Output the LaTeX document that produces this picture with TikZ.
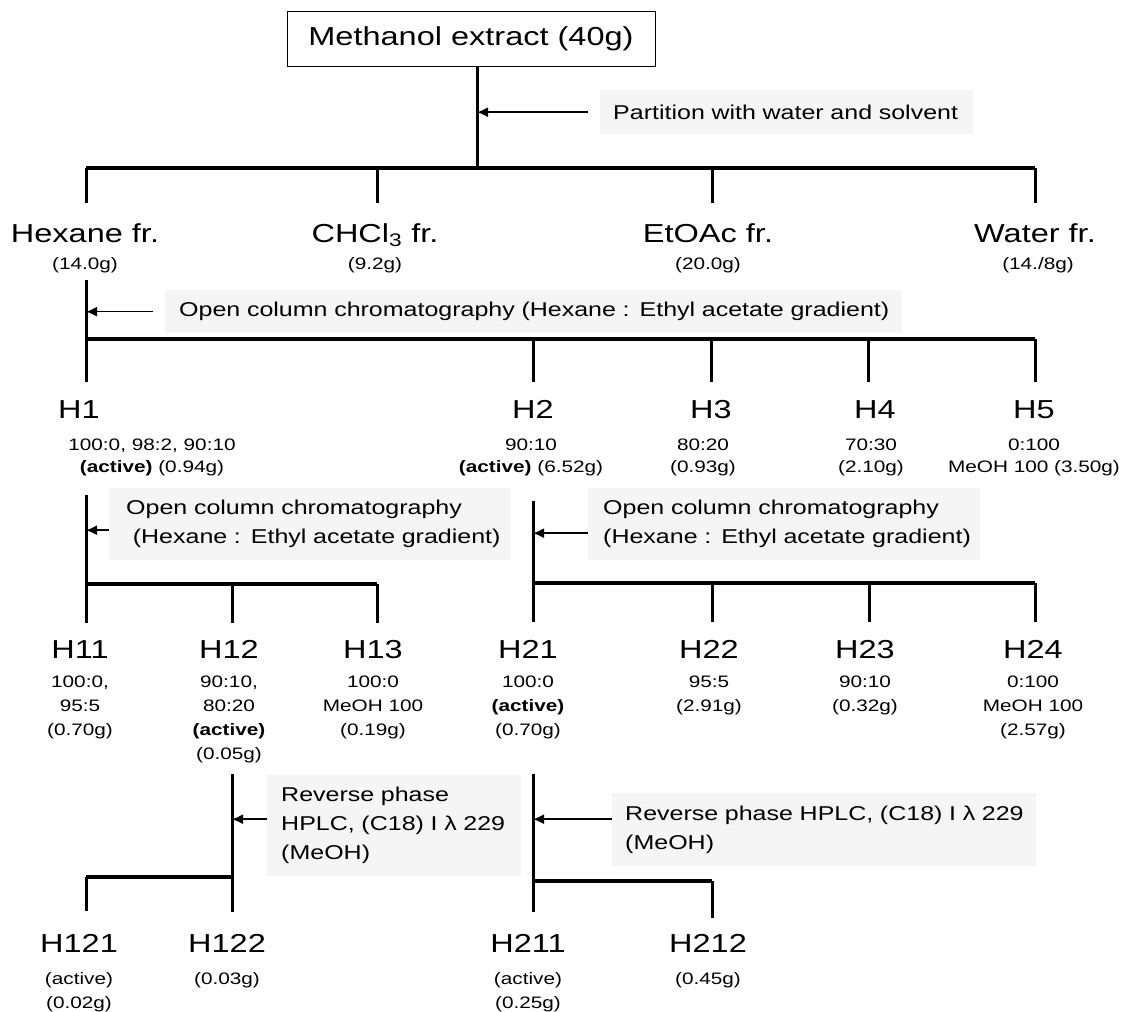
\documentclass[tikz,border=0pt]{standalone}
\usepackage{fontspec}
\newfontfamily\gul[FakeStretch=1.25]{Liberation Sans}
\usetikzlibrary{arrows.meta}
\begin{document}
\begin{tikzpicture}[x=1pt,y=-1pt,
  big/.style={font=\gul\fontsize{26}{30}\selectfont, inner sep=0pt, anchor=base},
  small/.style={font=\gul\fontsize{16.6}{24}\selectfont, inner sep=0pt, align=center, anchor=north},
  smalltight/.style={small, font=\gul\fontsize{16.6}{22}\selectfont},
  note/.style={font=\gul\fontsize{20}{29}\selectfont, fill=black!4, draw=none, anchor=north west, align=left, inner ysep=0pt},
  trunk/.style={line width=3pt},
  bar/.style={line width=3.8pt},
  arr/.style={line width=1.5pt, -{Latex[length=11pt,width=10pt]}}
]
\useasboundingbox (0,0) rectangle (1125,1012);

% ---- top
\node[draw, line width=1pt, minimum width=368pt, minimum height=55pt, inner sep=0pt,
      font=\gul\fontsize{26}{30}\selectfont] (top) at (471,38.5) {Methanol extract (40g)};
\coordinate (t0) at (477,168);
\draw[trunk] (top.south -| t0) -- (t0);
\node[note, text width=347pt, inner xsep=13pt, minimum height=44pt] (p1) at (600,90) {\mbox{Partition with water and solvent}};
\draw[arr] ([xshift=-12pt]p1.west) -- (p1.west -| t0);

\coordinate (b0l) at (86,168);
\coordinate (b0r) at (1035,168);
\draw[bar] (b0l) -- (b0r);
\foreach \xx in {86,377,712,1035} \draw[trunk] (\xx,168) -- (\xx,203);

\node[big] (hex) at (85,242) {Hexane fr.};
\node[big] (chcl) at (375,242) {CHCl\textsubscript{3} fr.};
\node[big] (etoac) at (708,242) {EtOAc fr.};
\node[big] (water) at (1035,242) {Water fr.};
\node[small] (hexw) at (85,257) {(14.0g)};
\node[small] (chclw) at (375,257) {(9.2g)};
\node[small] (etoacw) at (708,257) {(20.0g)};
\node[small] (waterw) at (1038,257) {(14./8g)};

% ---- hexane column
\coordinate (b1l) at (86,339);
\coordinate (b1r) at (1035,339);
\draw[trunk] (86,280) -- (b1l);
\node[note, text width=709pt, inner xsep=14pt, minimum height=43pt] (oc) at (165,290)
  {\mbox{Open column chromatography (Hexane : Ethyl acetate gradient)}};
\draw[arr] ([xshift=-12pt]oc.west) -- (oc.west -| b1l);
\draw[bar] (b1l) -- (b1r);
\foreach \xx in {86,533,711,868,1035} \draw[trunk] (\xx,339) -- (\xx,382);

\node[big] (H1) at (79,418) {H1};
\node[big] (H2) at (533,418) {H2};
\node[big] (H3) at (711,418) {H3};
\node[big] (H4) at (875,418) {H4};
\node[big] (H5) at (1034,418) {H5};
\node[smalltight] (h1s) at (152,439) {100:0, 98:2, 90:10\\\textbf{(active)} (0.94g)};
\node[smalltight] (h2s) at (531,439) {90:10\\\textbf{(active)} (6.52g)};
\node[smalltight] (h3s) at (703,439) {80:20\\(0.93g)};
\node[smalltight] (h4s) at (871,439) {70:30\\(2.10g)};
\node[smalltight] (h5s) at (1034,439) {0:100\\MeOH 100 (3.50g)};

% ---- H1 column
\coordinate (b2l) at (86,584);
\coordinate (b2r) at (377,584);
\draw[trunk] (86,495) -- (b2l);
\node[note, text width=368pt, inner xsep=17pt, minimum height=72pt] (n1) at (109,488)
  {\mbox{Open column chromatography}\\\mbox{ (Hexane : Ethyl acetate gradient)}};
\draw[arr] ([yshift=-6pt]n1.west) -- ([yshift=-6pt]n1.west -| b2l);
\draw[bar] (b2l) -- (b2r);
\foreach \xx in {86,232,377} \draw[trunk] (\xx,584) -- (\xx,623);

% ---- H2 column
\coordinate (b3l) at (533,583);
\coordinate (b3r) at (1035,583);
\draw[trunk] (533,501) -- (b3l);
\node[note, text width=362pt, inner xsep=15pt, minimum height=72pt] (n2) at (588,488)
  {\mbox{Open column chromatography}\\\mbox{(Hexane : Ethyl acetate gradient)}};
\draw[arr] ([yshift=-9pt]n2.west) -- ([yshift=-9pt]n2.west -| b3l);
\draw[bar] (b3l) -- (b3r);
\foreach \xx in {533,712,869,1035} \draw[trunk] (\xx,583) -- (\xx,622);

\node[big] (H11) at (80,658) {H11};
\node[big] (H12) at (229,658) {H12};
\node[big] (H13) at (373,658) {H13};
\node[big] (H21) at (528,658) {H21};
\node[big] (H22) at (709,658) {H22};
\node[big] (H23) at (865,658) {H23};
\node[big] (H24) at (1033,658) {H24};
\node[small] (h11s) at (80,676) {100:0,\\95:5\\(0.70g)};
\node[small] (h12s) at (229,676) {90:10,\\80:20\\\textbf{(active)}\\(0.05g)};
\node[small] (h13s) at (373,676) {100:0\\MeOH 100\\(0.19g)};
\node[small] (h21s) at (528,676) {100:0\\\textbf{(active)}\\(0.70g)};
\node[small] (h22s) at (709,676) {95:5\\(2.91g)};
\node[small] (h23s) at (865,676) {90:10\\(0.32g)};
\node[small] (h24s) at (1033,676) {0:100\\MeOH 100\\(2.57g)};

% ---- H12 column
\coordinate (b4r) at (232,877);
\coordinate (b4l) at (86,877);
\draw[trunk] (232,774) -- (232,912);
\node[note, text width=226pt, inner xsep=14pt, minimum height=101pt] (n3) at (267,775)
  {\mbox{Reverse phase}\\\mbox{HPLC, (C18) I λ 229}\\\mbox{(MeOH)}};
\draw[arr] ([yshift=6.5pt]n3.west) -- ([yshift=6.5pt]n3.west -| b4r);
\draw[bar] (b4l) -- (b4r);
\draw[trunk] (b4l) -- (86,911);

% ---- H21 column
\coordinate (b5l) at (533,881);
\coordinate (b5r) at (712,881);
\draw[trunk] (533,774) -- (533,912);
\node[note, text width=398pt, inner xsep=13pt, minimum height=73pt] (n4) at (612,793)
  {\mbox{Reverse phase HPLC, (C18) I λ 229}\\\mbox{(MeOH)}};
\draw[arr] ([yshift=10.5pt]n4.west) -- ([yshift=10.5pt]n4.west -| b5l);
\draw[bar] (b5l) -- (b5r);
\draw[trunk] (b5r) -- (712,918);

\node[big] (H121) at (79,952) {H121};
\node[big] (H122) at (227,952) {H122};
\node[big] (H211) at (528,952) {H211};
\node[big] (H212) at (708,952) {H212};
\node[small] (h121s) at (79,972) {(active)\\(0.02g)};
\node[small] (h122s) at (227,972) {(0.03g)};
\node[small] (h211s) at (528,972) {(active)\\(0.25g)};
\node[small] (h212s) at (708,972) {(0.45g)};
\end{tikzpicture}
\end{document}
